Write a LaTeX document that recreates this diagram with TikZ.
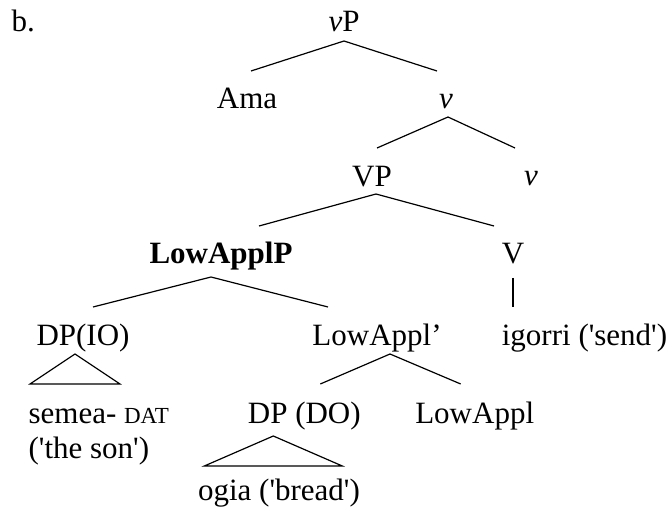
\documentclass[tikz,border=0pt]{standalone}
\usepackage{fontspec}
\setmainfont{Liberation Serif}
\usetikzlibrary{calc}
\newcommand{\sqt}{\textquotesingle}
\newcommand{\dat}{{\fontsize{23}{27}\selectfont DAT}}

\begin{document}
\begin{tikzpicture}[x=1pt,y=-1pt,line width=1.2pt,
    font=\fontsize{31}{37}\selectfont,
    every node/.style={anchor=base,inner sep=0pt}]
        \useasboundingbox (0,0) rectangle (671,510);
        \node[anchor=base west] (b) at (11,32) {b.};

        % tree nodes
        \node (vP) at (344,32) {\textit{v}P};
        \node (Ama) at (247,109) {Ama};
        \node (v1) at (446,109) {\textit{v}};
        \node (VP) at (372,187) {VP};
        \node (v2) at (531,186) {\textit{v}};
        \node (LowApplP) at (221,264) {\textbf{LowApplP}};
        \node (V) at (513,264) {V};
        \node (DPIO) at (83,345) {DP(IO)};
        \node (LowApplbar) at (377,345) {LowAppl’};
        \node (igorri) at (584.5,345) {igorri (\sqt send\sqt)};
        \node[anchor=base west] (semea) at (28,423) {semea- \dat};
        \node[anchor=base west] (theson) at (28,458) {(\sqt the son\sqt)};
        \node (DPDO) at (304.3,423) {DP (DO)};
        \node (LowAppl) at (474.7,423) {LowAppl};
        \node (ogia) at (279,500) {ogia (\sqt bread\sqt)};

        % branches
        \draw ($(Ama.base)+(4,-38)$) -- ($(vP.base)+(0,9)$) -- ($(v1.base)+(-9,-38)$);
        \draw ($(VP.base)+(5,-39)$) -- ($(v1.base)+(2,8)$) -- ($(v2.base)+(-16,-38)$);
        \draw ($(LowApplP.base)+(38,-38)$) -- ($(VP.base)+(4,7)$) -- ($(V.base)+(-19,-38)$);
        \draw ($(DPIO.base)+(10,-38)$) -- ($(LowApplP.base)+(-10,13)$) -- ($(LowApplbar.base)+(-49,-38)$);
        \draw ($(V.base)+(0,14)$) -- ($(V.base |- igorri.base)+(0,-38)$);
        \draw ($(DPDO.base)+(16,-39)$) -- ($(LowApplbar.base)+(13,9)$) -- ($(LowAppl.base)+(-14,-39)$);

        % triangles
        \draw ($(DPIO.base)+(-8,9)$) -- ($(DPIO.base)+(-53,39)$) -- ($(DPIO.base)+(37,39)$) -- cycle;
        \draw ($(DPDO.base)+(-31,13)$) -- ($(DPDO.base)+(-100,43)$) -- ($(DPDO.base)+(38,43)$) -- cycle;
    \end{tikzpicture}
\end{document}
